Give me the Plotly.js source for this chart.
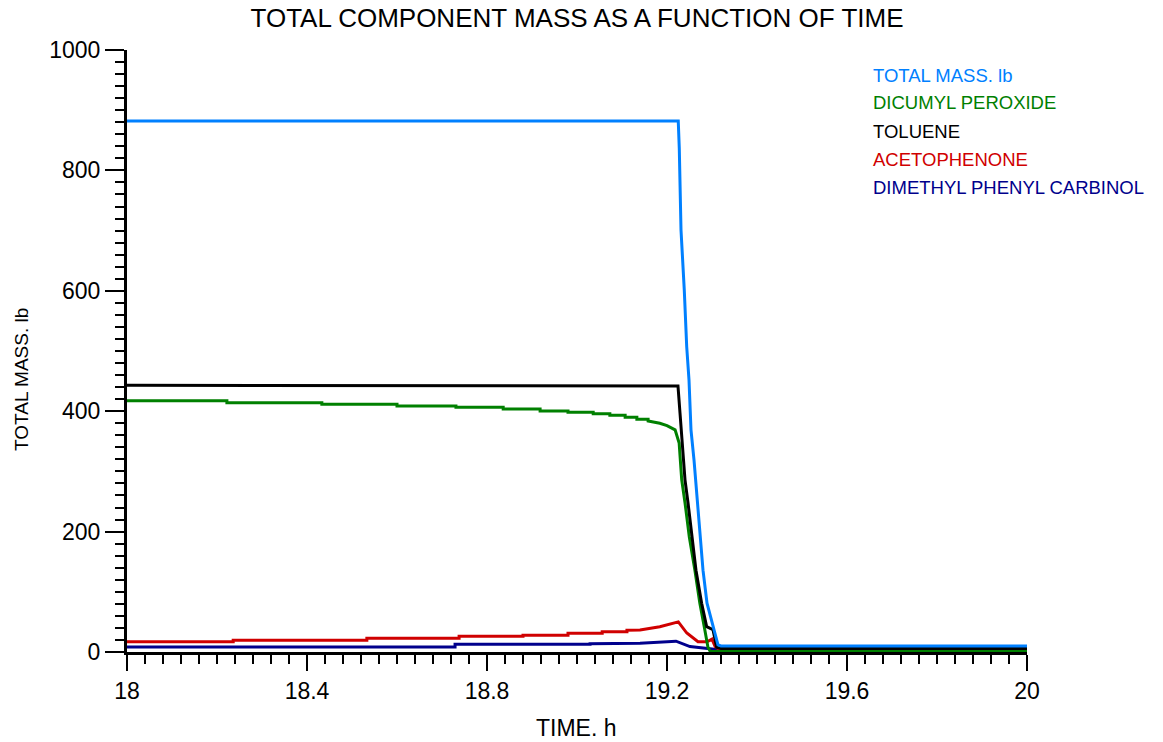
<!DOCTYPE html>
<html>
<head>
<meta charset="utf-8">
<script src="https://cdn.plot.ly/plotly-3.0.1.min.js"></script>
<style>
  html, body { margin: 0; padding: 0; background: #fff; }
  #chart { width: 1163px; height: 742px; }
</style>
</head>
<body>
<div id="chart"></div>
<script>
// Component masses (lb) versus time (h)
const seriesNames = [
  "TOTAL MASS. lb",
  "DICUMYL PEROXIDE",
  "TOLUENE",
  "ACETOPHENONE",
  "DIMETHYL PHENYL CARBINOL"
];

const totalTime = [18, 19.225, 19.2273, 19.2311, 19.2384, 19.24, 19.2438, 19.2489, 19.2533, 19.26, 19.2711, 19.28, 19.2889, 19.3022, 19.3133, 19.32, 20];
const totalMass = [882, 882, 837, 701, 601, 568, 507, 452, 369, 319, 219, 136, 81, 42, 12, 10, 10];

const peroxideTime = [18, 18.222, 18.222, 18.433, 18.433, 18.6, 18.6, 18.731, 18.731, 18.836, 18.836, 18.918, 18.918, 18.98, 18.98, 19.036, 19.036, 19.073, 19.073, 19.107, 19.107, 19.133, 19.133, 19.158, 19.158, 19.184, 19.2, 19.218, 19.227, 19.2327, 19.24, 19.2496, 19.262, 19.273, 19.284, 19.291, 19.296, 20];
const peroxideMass = [417.4, 417.4, 414.1, 414.1, 411.6, 411.6, 408.6, 408.6, 406.5, 406.5, 403.7, 403.7, 400.3, 400.3, 398.2, 398.2, 395.8, 395.8, 393.2, 393.2, 389.9, 389.9, 386.5, 386.5, 383.7, 380, 376, 369, 347, 286, 248, 191, 136, 81, 37, 8, 1, 1];

const tolueneTime = [18, 19.2244, 19.2289, 19.234, 19.24, 19.2467, 19.2549, 19.2644, 19.277, 19.2882, 19.3022, 19.3104, 19.32, 20];
const tolueneMass = [443, 442, 397, 347, 286, 248, 191, 136, 81, 42, 37, 8, 6, 6];

const acetoTime = [18, 18.236, 18.236, 18.533, 18.533, 18.738, 18.738, 18.88, 18.88, 18.98, 18.98, 19.056, 19.056, 19.111, 19.111, 19.14, 19.184, 19.2, 19.2251, 19.244, 19.2689, 19.289, 19.3, 19.307, 19.315, 20];
const acetoMass = [17, 17, 19.4, 19.4, 22.8, 22.8, 26, 26, 28, 28, 31, 31, 33.7, 33.7, 36, 36.5, 42, 45, 50, 31.5, 17, 17, 21.5, 9, 5, 5];

const carbinolTime = [18, 18.729, 18.729, 19.029, 19.029, 19.14, 19.213, 19.22, 19.251, 19.284, 19.31, 20];
const carbinolMass = [8.3, 8.3, 12.8, 12.8, 13.8, 14.4, 17, 18, 9, 6.6, 4, 4];

const seriesColors = ["rgb(0,128,255)", "rgb(0,128,0)", "rgb(0,0,0)", "rgb(208,0,0)", "rgb(0,0,140)"];

const xs = [totalTime, peroxideTime, tolueneTime, acetoTime, carbinolTime];
const ys = [totalMass, peroxideMass, tolueneMass, acetoMass, carbinolMass];

// Draw order: small components first, total on top
const drawOrder = [4, 3, 1, 2, 0];
const traces = drawOrder.map(i => ({
  x: xs[i],
  y: ys[i],
  type: "scatter",
  mode: "lines",
  name: seriesNames[i],
  line: { color: seriesColors[i], width: 3 },
  hoverinfo: "x+y+name"
}));

const fontFam = "Liberation Sans, Arial, sans-serif";

// Text-only legend in the upper right
const legendNotes = seriesNames.map((name, i) => ({
  xref: "paper", yref: "paper",
  x: (871 - 127) / 900, y: (652 - (75 + 28 * i)) / 602,
  xanchor: "left", yanchor: "middle",
  text: name,
  showarrow: false,
  font: { family: fontFam, size: 18.5, color: seriesColors[i] }
}));

// Axis titles placed as annotations
const axisTitles = [
  {
    xref: "paper", yref: "paper",
    x: (576 - 127) / 900, y: (652 - 728) / 602,
    xanchor: "center", yanchor: "middle",
    text: "TIME. h", showarrow: false,
    font: { family: fontFam, size: 23, color: "#000" }
  },
  {
    xref: "paper", yref: "paper",
    x: (22 - 127) / 900, y: (652 - 380) / 602,
    xanchor: "center", yanchor: "middle",
    text: "TOTAL MASS. lb", showarrow: false, textangle: -90,
    font: { family: fontFam, size: 19, color: "#000" }
  }
];

const layout = {
  width: 1163,
  height: 742,
  margin: { l: 127, r: 136, t: 50, b: 90 },
  paper_bgcolor: "#ffffff",
  plot_bgcolor: "#ffffff",
  showlegend: false,
  font: { family: fontFam, color: "#000" },
  title: {
    text: "TOTAL COMPONENT MASS AS A FUNCTION OF TIME",
    font: { family: fontFam, size: 26, color: "#000" },
    x: 0.5, xref: "paper", xanchor: "center",
    y: 0.976, yref: "container", yanchor: "middle"
  },
  xaxis: {
    range: [18, 20],
    tickmode: "linear", tick0: 18, dtick: 0.4,
    ticks: "outside", ticklen: 16, tickwidth: 2, tickcolor: "#000",
    minor: { dtick: 0.04, tick0: 18, ticks: "outside", ticklen: 9, tickwidth: 2, tickcolor: "#000", showgrid: false },
    showline: true, linecolor: "#000", linewidth: 3,
    showgrid: false, zeroline: false,
    tickfont: { family: fontFam, size: 23, color: "#000" },
    automargin: false
  },
  yaxis: {
    range: [0, 1000],
    tickmode: "linear", tick0: 0, dtick: 200,
    ticks: "outside", ticklen: 19, tickwidth: 2, tickcolor: "#000",
    minor: { dtick: 20, tick0: 0, ticks: "outside", ticklen: 9, tickwidth: 2, tickcolor: "#000", showgrid: false },
    showline: true, linecolor: "#000", linewidth: 3,
    showgrid: false, zeroline: false,
    tickfont: { family: fontFam, size: 23, color: "#000" },
    automargin: false
  },
  annotations: legendNotes.concat(axisTitles)
};

Plotly.newPlot("chart", traces, layout, { displayModeBar: false, staticPlot: true });
</script>
</body>
</html>
